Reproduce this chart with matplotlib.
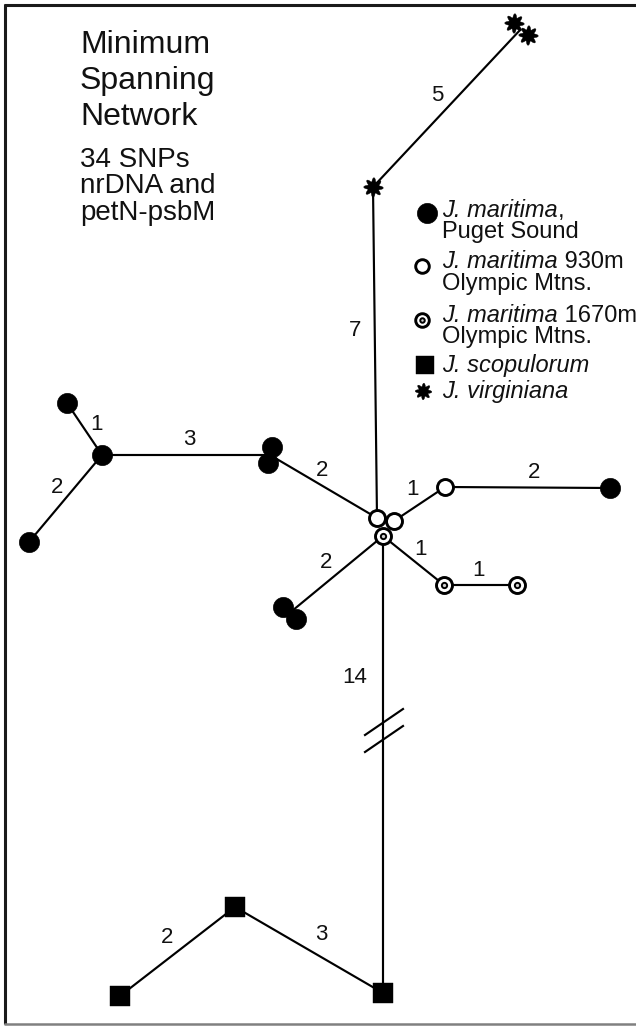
import matplotlib
matplotlib.use('Agg')
import matplotlib.pyplot as plt
import numpy as np
from matplotlib.path import Path

plt.rcParams['font.family'] = ['Liberation Sans', 'DejaVu Sans']

# ---------------- data ----------------
title_big = ['Minimum', 'Spanning', 'Network']
title_small = ['34 SNPs', 'nrDNA and', 'petN-psbM']

# haplotype nodes and their group
node_ids = ['V1', 'V2', 'V3', 'PA', 'PH', 'PB', 'PC1', 'PC2', 'PL1', 'PL2',
            'O1', 'O2', 'D1', 'O3', 'PR', 'D2', 'D3', 'S1', 'S2', 'S3']
node_groups = ['virg', 'virg', 'virg', 'puget', 'puget', 'puget', 'puget', 'puget',
               'puget', 'puget', 'olym930', 'olym930', 'olym1670', 'olym930',
               'puget', 'olym1670', 'olym1670', 'scop', 'scop', 'scop']

# edges (a '+' joins a pair of haplotypes drawn together) and number of SNP steps
edge_from = ['V1+V2', 'V3', 'PH', 'PH', 'PH', 'PC1+PC2', 'PL1+PL2', 'O2', 'O3', 'D1', 'D2', 'D1', 'S3', 'S2']
edge_to = ['V3', 'O1', 'PA', 'PB', 'PC1+PC2', 'O1', 'D1', 'O3', 'PR', 'D2', 'D3', 'S3', 'S2', 'S1']
edge_steps = [5, 7, 1, 2, 3, 2, 2, 1, 2, 1, 1, 14, 3, 2]

legend_groups = ['puget', 'olym930', 'olym1670', 'scop', 'virg']
legend_italic = ['J. maritima', 'J. maritima', 'J. maritima', 'J. scopulorum', 'J. virginiana']
legend_rest = [',', ' 930m', ' 1670m', '', '']
legend_line2 = ['Puget Sound', 'Olympic Mtns.', 'Olympic Mtns.', '', '']

# ---------------- layout (pixel space) ----------------
layout = {
    'V1': (514, 23), 'V2': (528, 35), 'V3': (373, 187),
    'PA': (67, 403), 'PH': (102, 455), 'PB': (29, 542),
    'PC1': (272, 447), 'PC2': (268, 463),
    'PL1': (283, 607), 'PL2': (296, 619),
    'O1': (377, 518), 'O2': (394, 521), 'D1': (383, 536),
    'O3': (445, 487), 'PR': (610, 488), 'D2': (444, 585), 'D3': (517, 585),
    'S1': (120, 996), 'S2': (235, 907), 'S3': (383, 993),
}
edge_label_pos = [(437, 93), (355, 328), (97, 422), (57, 485), (189, 437), (322, 468),
                  (326, 560), (413, 487), (534, 470), (420, 547), (479, 568),
                  (355, 675), (321, 932), (167, 935)]
legend_marker_pos = [(427, 213), (422, 266), (422, 320), (425, 365), (423, 391)]
legend_text_base = [(217, 238), (268, 290), (322, 343), (372, None), (398, None)]

# ---------------- figure ----------------
fig = plt.figure(figsize=(6.36, 10.26), dpi=100)
ax = fig.add_axes([0, 0, 1, 1])
ax.set_xlim(0, 636)
ax.set_ylim(1026, 0)
ax.axis('off')

# frame
ax.plot([5, 5], [4, 1024], color='#1a1a1a', lw=2.2, solid_capstyle='butt', zorder=0)
ax.plot([4, 640], [5, 5], color='#1a1a1a', lw=2.2, solid_capstyle='butt', zorder=0)
ax.plot([4, 640], [1023.5, 1023.5], color='#808080', lw=1.8, solid_capstyle='butt', zorder=0)

# rounded 8-lobed star marker
th = np.linspace(0, 2 * np.pi, 321)
r = 0.8 + 0.2 * np.cos(8 * th + np.pi / 8)
star = Path(np.column_stack([r * np.cos(th), r * np.sin(th)]))

LW = 1.55


def pos(name):
    parts = name.split('+')
    return np.mean([layout[p] for p in parts], axis=0)


# edges
for a, b in zip(edge_from, edge_to):
    pa, pb = pos(a), pos(b)
    ax.plot([pa[0], pb[0]], [pa[1], pb[1]], color='black', lw=LW, zorder=1,
            solid_capstyle='butt')

# break marks on the long edge
for y0 in (735, 752):
    ax.plot([365, 403], [y0, y0 - 26], color='black', lw=LW, zorder=1)

# edge labels
for (x, y), s in zip(edge_label_pos, edge_steps):
    ax.text(x, y + 8, str(s), fontsize=16, ha='center', va='baseline', color='#111111')


def draw_marker(x, y, group, scale=1.0, z=3):
    if group == 'puget':
        ax.plot(x, y, 'o', ms=14.5 * scale, mfc='black', mec='black', mew=0.5, zorder=z)
    elif group == 'olym930':
        ax.plot(x, y, 'o', ms=11.5 * scale, mfc='white', mec='black', mew=2.1, zorder=z)
    elif group == 'olym1670':
        ax.plot(x, y, 'o', ms=11.5 * scale, mfc='white', mec='black', mew=2.1, zorder=z)
        ax.plot(x, y, 'o', ms=3.8 * scale, mfc='#d0d0d0', mec='black', mew=1.4, zorder=z + 0.1)
    elif group == 'scop':
        ax.plot(x, y, 's', ms=14.5 * scale, mfc='black', mec='black', mew=0.3, zorder=z)
    elif group == 'virg':
        ax.plot(x, y, marker=star, ms=14 * scale, mfc='black', mec='black', mew=0.3,
                linestyle='none', zorder=z)


for i, (n, g) in enumerate(zip(node_ids, node_groups)):
    x, y = layout[n]
    draw_marker(x, y, g, z=3 + i * 0.01)

# title
big_base = [53, 89, 125]
small_base = [167, 193, 220]
for s, b in zip(title_big, big_base):
    ax.text(80, b, s, fontsize=23, ha='left', va='baseline', color='#111111')
for s, b in zip(title_small, small_base):
    ax.text(80, b, s, fontsize=20, ha='left', va='baseline', color='#111111')

# legend
fig.canvas.draw()
renderer = fig.canvas.get_renderer()
legend_scale = [1.0, 0.85, 0.85, 0.9, 0.85]
for (mx, my), g, sc, it, rest, l2, (b1, b2) in zip(legend_marker_pos, legend_groups,
                                                    legend_scale, legend_italic,
                                                    legend_rest, legend_line2,
                                                    legend_text_base):
    draw_marker(mx, my, g, scale=sc)
    t = ax.text(442, b1, it, fontsize=17, style='italic', ha='left', va='baseline',
                color='#111111')
    if rest:
        bb = t.get_window_extent(renderer=renderer)
        x_end = ax.transData.inverted().transform((bb.x1, bb.y0))[0]
        ax.text(x_end, b1, rest, fontsize=17, ha='left', va='baseline', color='#111111')
    if l2:
        ax.text(442, b2, l2, fontsize=17, ha='left', va='baseline', color='#111111')

fig.savefig('out.png', dpi=100)
